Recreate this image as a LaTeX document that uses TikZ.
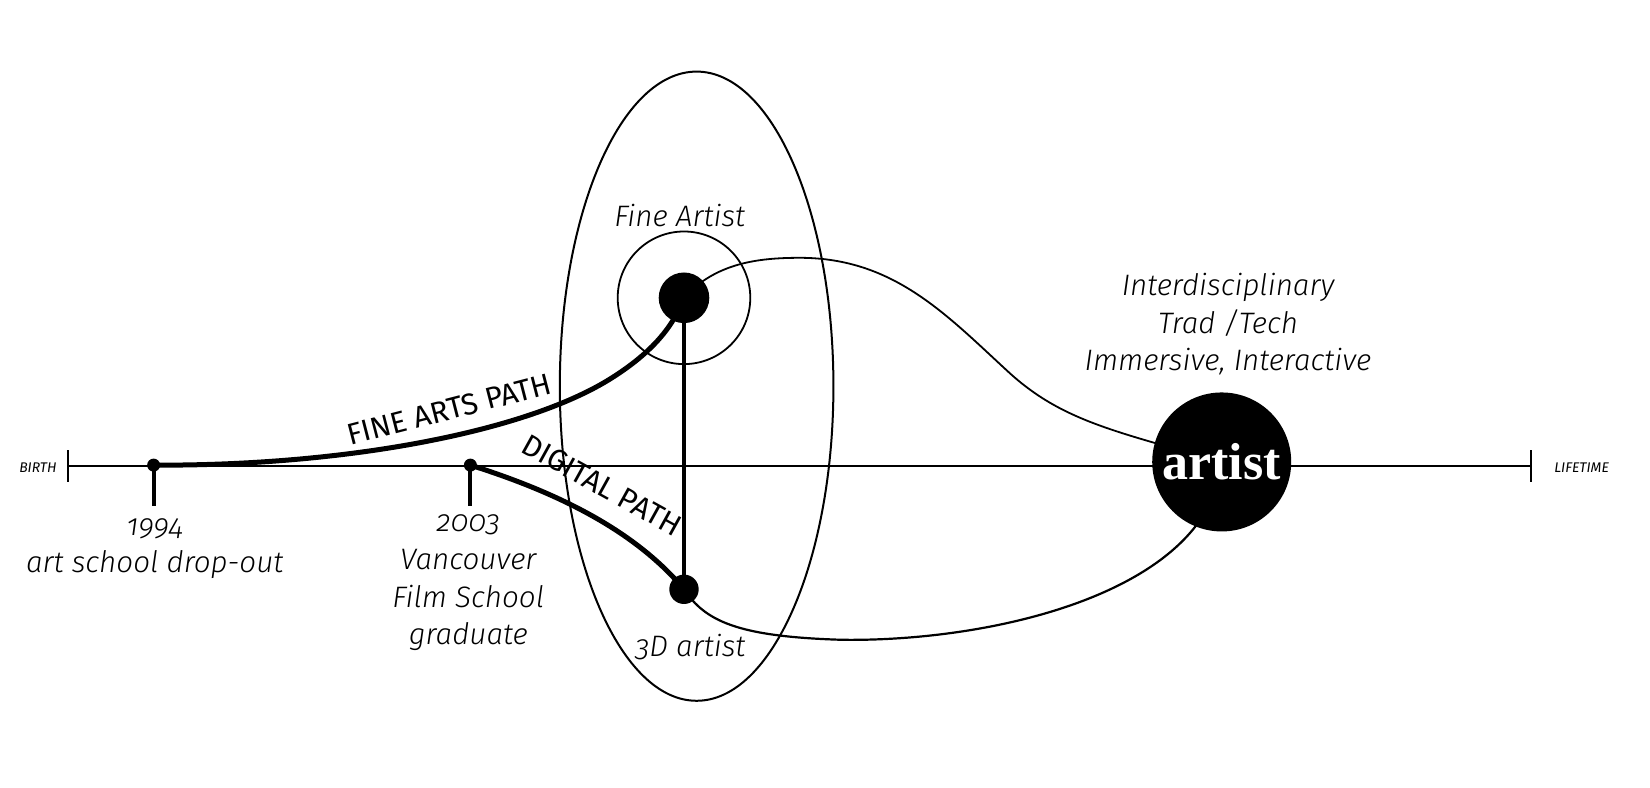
\documentclass[tikz,border=0pt]{standalone}
\usepackage{fontspec}
\setmainfont{Fira Sans Light}[Numbers=OldStyle]
\newfontfamily\regfont{Fira Sans}[Numbers=OldStyle]
\newfontfamily\artfont{Liberation Serif}
\usetikzlibrary{shapes.geometric}
\begin{document}
\begin{tikzpicture}[x=0.52615pt,y=-0.52615pt,
  lab/.style={font=\fontsize{14.8}{18.8}\selectfont\itshape,align=center,inner sep=0pt},
  tiny/.style={font=\regfont\fontsize{7}{8}\selectfont\itshape,inner sep=0pt},
  pathlab/.style={font=\regfont\fontsize{15}{17}\selectfont,inner sep=0pt},
  thinline/.style={line width=0.75pt},
  thick path/.style={line width=2.5pt},
  smalldot/.style={circle,fill=black,inner sep=0pt,minimum size=6.5pt},
  stem/.style={line width=2pt},
  tickmark/.style={line width=0.9pt}]
\useasboundingbox (0,0) rectangle (1568,748);
% ellipse and ring
\node[ellipse,draw,line width=1pt,minimum width=136.8pt,minimum height=314.6pt,inner sep=0pt] (ell) at (662,367) {};
\node[circle,draw,line width=0.9pt,minimum size=66.3pt,inner sep=0pt] (ring) at (650,283) {};
% timeline
\coordinate (tb) at (65,443);
\coordinate (tl) at (1455,443);
\draw[thinline] (tb) -- (tl);
\draw[tickmark] ([yshift=8pt]tb) -- ([yshift=-8pt]tb);
\draw[tickmark] ([yshift=8pt]tl) -- ([yshift=-8pt]tl);
\node[tiny] (birth) at (36,444) {BIRTH};
\node[tiny] (life) at (1503,444) {LIFETIME};
% milestones
\node[smalldot] (d94) at (146,442) {};
\node[smalldot] (d03) at (447,442) {};
\coordinate (s94) at (146,481);
\coordinate (s03) at (447,481);
\draw[stem] (d94.center) -- (s94);
\draw[stem] (d03.center) -- (s03);
\node[lab,anchor=north] (l94) at (147,492) {1994\\art school drop-out};
\node[lab,anchor=north] (l03) at (445,489) {2003\\Vancouver\\Film School\\graduate};
% stage nodes
\node[circle,fill=black,inner sep=0pt,minimum size=25.3pt] (fa) at (650,283) {};
\node[circle,fill=black,inner sep=0pt,minimum size=14.7pt] (td) at (650,560) {};
\coordinate (artc) at (1161,439);
% connectors
\draw[line width=1.6pt] (fa.center) -- (td.center);
\draw[thick path] (d94.center) .. controls (330,443) and (500,410) .. (580,360) .. controls (620,335) and (640,310) .. (fa.center);
\draw[thick path] (d03.center) .. controls (520,465) and (600,500) .. (td.center);
\draw[line width=0.9pt] (fa.center) .. controls (680,250) and (720,245) .. (760,245) .. controls (850,245) and (900,300) .. (960,355) .. controls (1010,400) and (1060,410) .. (artc);
\draw[line width=1.1pt] (td.center) .. controls (670,590) and (700,605) .. (800,608) .. controls (950,610) and (1150,560) .. (artc);
\node[circle,fill=black,inner sep=0pt,minimum size=69.5pt,font=\artfont\bfseries\fontsize{26}{28}\selectfont,text=white] (art) at (artc) {artist};
% labels
\node[lab] (lfa) at (646,205) {Fine Artist};
\node[lab] (ltd) at (656,615) {3D artist};
\node[lab] (lint) at (1167,308) {Interdisciplinary\\Trad /Tech\\Immersive, Interactive};
\node[pathlab,rotate=14.5] (pfa) at (427,389) {FINE ARTS PATH};
\node[pathlab,rotate=-29] (pdg) at (572,461) {DIGITAL PATH};
\end{tikzpicture}
\end{document}
